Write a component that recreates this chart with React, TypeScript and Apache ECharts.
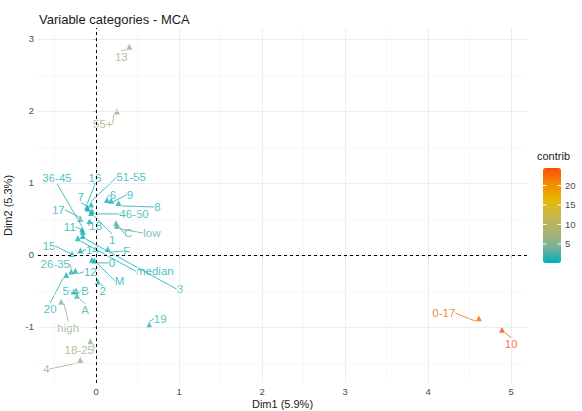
import React, { useEffect, useRef } from "react";
import * as echarts from "echarts";

// MCA variable categories: coordinates on Dim1 / Dim2 and contribution (%)
const categories = [
  "13", "55+", "36-45", "16", "51-55", "7", "6", "9", "8", "17", "46-50", "18",
  "1", "C", "low", "11", "median", "3", "F", "15", "14", "0", "M", "26-35",
  "12", "20", "5", "B", "2", "A", "high", "19", "18-25", "4", "0-17", "10",
];
const dim1 = [
  0.40, 0.25, -0.17, -0.11, -0.06, -0.10, 0.13, 0.18, 0.27, -0.19, -0.05, -0.08,
  -0.06, 0.24, 0.25, -0.16, -0.22, -0.16, 0.14, -0.29, -0.19, -0.05, -0.02, -0.30,
  -0.25, -0.36, -0.27, -0.24, 0.02, -0.23, -0.42, 0.64, -0.07, -0.19, 4.61, 4.89,
];
const dim2 = [
  2.89, 1.99, 0.35, 0.66, 0.70, 0.64, 0.76, 0.75, 0.72, 0.50, 0.61, 0.47,
  0.58, 0.44, 0.40, 0.32, 0.23, 0.26, 0.08, 0.01, 0.06, -0.07, -0.08, -0.23,
  -0.22, -0.28, -0.51, -0.50, -0.37, -0.57, -0.65, -0.97, -1.20, -1.46, -0.88, -1.04,
];
const contrib = [
  7.5, 6.5, 1.0, 0.8, 0.9, 0.7, 0.6, 0.5, 1.2, 0.9, 1.1, 0.8,
  0.6, 2.5, 2.8, 0.7, 0.4, 0.3, 1.5, 0.8, 0.6, 0.4, 0.5, 1.8,
  0.9, 1.0, 0.7, 1.0, 0.4, 2.4, 5.5, 1.3, 6.2, 6.0, 23.0, 24.4,
];

// Axis ticks and gridlines
const xTicks = [0, 1, 2, 3, 4, 5];
const yTicks = [-1, 0, 1, 2, 3];
const xMinor = [-0.5, 0.5, 1.5, 2.5, 3.5, 4.5];
const yMinor = [-1.5, -0.5, 0.5, 1.5, 2.5];
const legendTicks = [5, 10, 15, 20];
const contribMin = 0.1;
const contribMax = 24.5;

// teal -> yellow -> orange, with intermediate stops blended in Lab space
const gradientColors = [
  "#00AFBB", "#7AB198", "#ABB26F", "#CAB64C", "#E7B800", "#F48901", "#FC4E07",
];

// Repelled label offsets in pixels (label centre relative to its point)
const labelNudge: Record<string, [number, number]> = {
  "13": [-8, 10], "55+": [-14, 12], "36-45": [-25, -52], "16": [8, -29],
  "51-55": [40, -27], "7": [-7, -12], "6": [6, -5], "9": [19, -6], "8": [39, 4],
  "17": [-22, -9], "46-50": [42, 3], "18": [6, 5], "1": [21, 27], "C": [12, 10],
  "low": [35, 7], "11": [-13, -5], "median": [77, 33], "3": [97, 53], "F": [19, 2],
  "15": [-23, -8], "14": [12, -1], "0": [20, 3], "M": [25, 20], "26-35": [-16, -7],
  "12": [15, 1], "20": [-16, 34], "5": [-8, -1], "B": [9, 0], "2": [5, 10],
  "A": [8, 14], "high": [7, 26], "19": [11, -6], "18-25": [-11, 9], "4": [-34, 9],
  "0-17": [-35, -5], "10": [9, 14],
};

const FONT = "Liberation Sans, Arial, sans-serif";

// Colour bar placement
const BAR_LEFT = 543;
const BAR_TOP = 168;
const BAR_W = 18;
const BAR_H = 95;

export default function App() {
  const ref = useRef<HTMLDivElement>(null);

  useEffect(() => {
    document.body.style.margin = "0";
    if (!ref.current) return;
    const chart = echarts.init(ref.current, null, { renderer: "svg" });

    const points = categories.map((name, i) => ({
      name,
      value: [dim1[i], dim2[i], contrib[i]],
    }));

    const gridLines = [
      ...xMinor.map((v) => ({ xAxis: v, lineStyle: { color: "#F3F3F3", width: 0.6, type: "solid" } })),
      ...yMinor.map((v) => ({ yAxis: v, lineStyle: { color: "#F3F3F3", width: 0.6, type: "solid" } })),
      ...xTicks.map((v) => ({ xAxis: v, lineStyle: { color: "#E8E8E8", width: 0.8, type: "solid" } })),
      ...yTicks.map((v) => ({ yAxis: v, lineStyle: { color: "#E8E8E8", width: 0.8, type: "solid" } })),
    ];

    const legendY = (v: number) =>
      BAR_TOP + ((contribMax - v) / (contribMax - contribMin)) * BAR_H;

    const legendGraphics: any[] = [
      {
        type: "text",
        left: 537,
        top: 150,
        style: { text: "contrib", font: `11px ${FONT}`, fill: "#1A1A1A" },
      },
    ];
    legendTicks.forEach((v) => {
      const y = legendY(v);
      legendGraphics.push(
        {
          type: "line",
          shape: { x1: BAR_LEFT, y1: y, x2: BAR_LEFT + 3.5, y2: y },
          style: { stroke: "#FFFFFF", lineWidth: 1 },
          z: 100,
        },
        {
          type: "line",
          shape: { x1: BAR_LEFT + BAR_W - 3.5, y1: y, x2: BAR_LEFT + BAR_W, y2: y },
          style: { stroke: "#FFFFFF", lineWidth: 1 },
          z: 100,
        },
        {
          type: "text",
          x: BAR_LEFT + BAR_W + 4,
          y,
          style: {
            text: String(v),
            font: `9.5px ${FONT}`,
            fill: "#4D4D4D",
            verticalAlign: "middle",
          },
        }
      );
    });

    const zeroLine = { color: "#000000", width: 1, type: [3, 3], opacity: 1 };

    chart.setOption({
      animation: false,
      backgroundColor: "#FFFFFF",
      title: {
        text: "Variable categories - MCA",
        left: 34,
        top: 8,
        textStyle: { fontFamily: FONT, fontSize: 13, fontWeight: "normal", color: "#1A1A1A" },
      },
      grid: { left: 38, right: 55, top: 28, bottom: 28, outerBoundsMode: "none", containLabel: false },
      xAxis: {
        type: "value",
        min: -0.7,
        max: 5.19,
        splitLine: { show: false },
        axisLine: { show: false },
        axisTick: { show: true, length: 3, customValues: xTicks, lineStyle: { color: "#333333" } },
        axisLabel: { customValues: xTicks, color: "#4D4D4D", fontSize: 9.5, fontFamily: FONT, margin: 3 },
        name: "Dim1 (5.9%)",
        nameLocation: "middle",
        nameGap: 15,
        nameMoveOverlap: false,
        nameTextStyle: { fontFamily: FONT, fontSize: 11, color: "#1A1A1A" },
      },
      yAxis: {
        type: "value",
        min: -1.78,
        max: 3.15,
        splitLine: { show: false },
        axisLine: { show: false },
        axisTick: { show: true, length: 3, customValues: yTicks, lineStyle: { color: "#333333" } },
        axisLabel: { customValues: yTicks, color: "#4D4D4D", fontSize: 9.5, fontFamily: FONT, margin: 4 },
        name: "Dim2 (5.3%)",
        nameLocation: "middle",
        nameGap: 25,
        nameTextStyle: { fontFamily: FONT, fontSize: 11, color: "#1A1A1A" },
      },
      visualMap: {
        type: "continuous",
        seriesIndex: 0,
        dimension: 2,
        min: contribMin,
        max: contribMax,
        calculable: false,
        left: BAR_LEFT,
        top: BAR_TOP,
        padding: 0,
        itemWidth: BAR_W,
        itemHeight: BAR_H,
        inRange: { color: gradientColors },
      },
      graphic: legendGraphics,
      series: [
        {
          type: "scatter",
          z: 3,
          symbol: "triangle",
          symbolSize: 6,
          data: points,
          label: {
            show: true,
            position: "inside",
            formatter: "{b}",
            color: "inherit",
            fontSize: 11.5,
            fontFamily: FONT,
          },
          labelLine: { show: true, lineStyle: { width: 0.8 } },
          labelLayout: (params: any) => {
            const n = labelNudge[categories[params.dataIndex]] || [0, 0];
            return { dx: n[0], dy: n[1] };
          },
        },
        {
          type: "scatter",
          z: 1,
          data: [],
          silent: true,
          markLine: {
            silent: true,
            symbol: "none",
            label: { show: false },
            data: gridLines,
          },
        },
        {
          type: "scatter",
          z: 2,
          data: [],
          silent: true,
          markLine: {
            silent: true,
            symbol: "none",
            label: { show: false },
            lineStyle: zeroLine,
            data: [
              { xAxis: 0, lineStyle: zeroLine },
              { yAxis: 0, lineStyle: zeroLine },
            ],
          },
        },
      ],
    });

    return () => chart.dispose();
  }, []);

  return <div ref={ref} style={{ width: 582, height: 411 }} />;
}
